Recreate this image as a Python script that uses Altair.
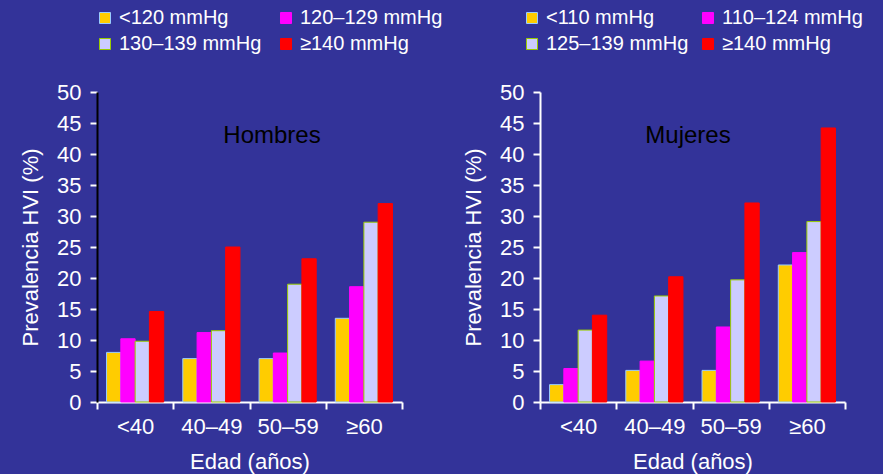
import altair as alt
import pandas as pd

FONT = "Liberation Sans"
BG = "#333399"

ages = ["<40", "40–49", "50–59", "≥60"]

# Hombres: prevalencia de HVI por grupo de presión arterial
men_groups = ["<120 mmHg", "120–129 mmHg", "130–139 mmHg", "≥140 mmHg"]
men_lt120 = [8.0, 7.0, 7.0, 13.5]
men_120_129 = [10.2, 11.2, 7.9, 18.6]
men_130_139 = [9.8, 11.5, 19.0, 29.0]
men_ge140 = [14.6, 25.0, 23.1, 32.0]

# Mujeres
women_groups = ["<110 mmHg", "110–124 mmHg", "125–139 mmHg", "≥140 mmHg"]
women_lt110 = [2.8, 5.1, 5.1, 22.1]
women_110_124 = [5.4, 6.6, 12.1, 24.1]
women_125_139 = [11.6, 17.1, 19.7, 29.1]
women_ge140 = [14.0, 20.2, 32.1, 44.2]

FILLS = ["#FFCC00", "#FF00FF", "#CCCCFF", "#FF0000"]
EDGES = ["#99CCFF", "#FF00FF", "#99CC00", "#FF0000"]

W, H = 305, 310


def panel(groups, series, title, title_x, legend_x, col_pad, y_domain_color):
    rows = []
    for g, vals in zip(groups, series):
        for a, v in zip(ages, vals):
            rows.append({"edad": a, "grupo": g, "valor": v})
    df = pd.DataFrame(rows)

    legend = alt.Legend(
        title=None, orient="none", legendX=legend_x, legendY=-84,
        direction="horizontal", columns=2, columnPadding=col_pad, rowPadding=6,
        symbolType="square", symbolSize=121, symbolStrokeWidth=1,
        labelFontSize=20, labelColor="white", labelFont=FONT,
        labelOffset=4, padding=0,
    )

    bars = alt.Chart(df).mark_bar(strokeWidth=1).encode(
        x=alt.X(
            "edad:N", sort=ages,
            scale=alt.Scale(paddingInner=0, paddingOuter=0),
            axis=alt.Axis(
                title="Edad (años)", labelAngle=0, tickBand="extent",
                domainColor="white", domainWidth=2,
                tickColor="white", tickWidth=2, tickSize=7,
                labelColor="white", labelFontSize=22, labelFont=FONT, labelPadding=7,
                titleColor="white", titleFontSize=22, titleFont=FONT,
                titleFontWeight="normal", titlePadding=14,
            ),
        ),
        xOffset=alt.XOffset(
            "grupo:N",
            scale=alt.Scale(domain=groups, paddingInner=0, paddingOuter=0.667),
        ),
        y=alt.Y(
            "valor:Q",
            scale=alt.Scale(domain=[0, 50]),
            axis=alt.Axis(
                title="Prevalencia HVI (%)", values=list(range(0, 51, 5)),
                grid=False, domainColor=y_domain_color, domainWidth=2,
                tickColor="white", tickWidth=2, tickSize=7,
                labelColor="white", labelFontSize=22, labelFont=FONT, labelPadding=9,
                titleColor="white", titleFontSize=22, titleFont=FONT,
                titleFontWeight="normal", titlePadding=14,
            ),
        ),
        color=alt.Color("grupo:N",
                        scale=alt.Scale(domain=groups, range=FILLS), legend=legend),
        stroke=alt.Stroke("grupo:N",
                          scale=alt.Scale(domain=groups, range=EDGES), legend=legend),
    )

    label = alt.Chart(pd.DataFrame({"t": [title]})).mark_text(
        font=FONT, fontSize=24, color="black", align="center", baseline="alphabetic"
    ).encode(x=alt.value(title_x), y=alt.value(51), text="t:N")

    return alt.layer(bars, label).properties(width=W, height=H)


left = panel(men_groups, [men_lt120, men_120_129, men_130_139, men_ge140],
             "Hombres", 175, -2, 14, "black")
right = panel(women_groups, [women_lt110, women_110_124, women_125_139, women_ge140],
              "Mujeres", 148, -18, 9, "white")

chart = alt.hconcat(left, right, spacing=138, bounds="flush").resolve_scale(
    color="independent", stroke="independent", xOffset="independent"
).resolve_legend(color="independent", stroke="independent").properties(
    background=BG,
    padding={"left": 19, "top": 8, "right": 20, "bottom": 2},
).configure_view(stroke=None)

chart.save("out.html", embed_options={"renderer": "svg", "actions": False})
